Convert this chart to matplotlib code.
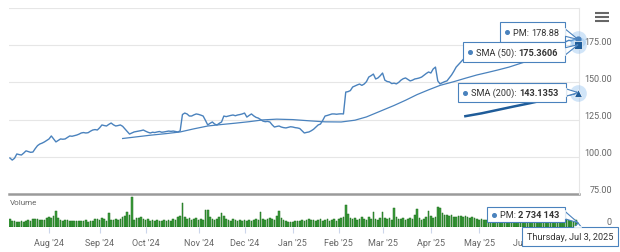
import numpy as np
import pandas as pd
import matplotlib
matplotlib.use('Agg')
import matplotlib.pyplot as plt
from matplotlib.patches import Rectangle, Polygon
import matplotlib.transforms as mtransforms

plt.rcParams['font.family'] = ['Roboto', 'DejaVu Sans']

# trading days (NYSE holidays removed)
holidays = ['2024-09-02', '2024-11-28', '2024-12-25', '2025-01-01', '2025-01-09',
            '2025-01-20', '2025-02-17', '2025-04-18', '2025-05-26', '2025-06-19']
dates = pd.bdate_range('2024-07-09', '2025-07-03', freq='C', holidays=holidays)

price = [
    99.2, 97.8, 99.0, 101.9, 101.5, 101.2, 102.5, 104.0, 103.5, 103.0,
    103.2, 105.5, 107.5, 108.6, 109.2, 110.0, 111.0, 112.0, 114.0, 112.0,
    110.0, 111.0, 112.0, 111.8, 112.0, 113.0, 114.0, 113.8, 114.2, 114.6,
    115.2, 116.0, 116.3, 116.0, 116.2, 117.2, 118.0, 118.3, 118.0, 119.5,
    121.4, 121.0, 120.7, 121.8, 122.7, 121.5, 120.7, 121.0, 121.4, 120.5,
    118.7, 117.0, 115.3, 116.0, 116.7, 117.0, 117.3, 117.6, 118.0, 117.2,
    116.5, 116.0, 116.5, 116.3, 116.7, 117.0, 116.5, 116.7, 117.0, 117.3,
    117.1, 117.3, 117.0, 116.7, 117.4, 128.4, 129.4, 128.8, 127.4, 127.4,
    128.2, 128.8, 128.5, 128.0, 127.4, 124.5, 121.4, 122.5, 123.4, 122.0,
    121.4, 122.5, 123.4, 127.4, 127.0, 127.4, 127.8, 128.1, 127.6, 128.1,
    128.4, 128.8, 129.4, 126.7, 127.8, 128.8, 127.5, 126.5, 126.0, 125.0,
    124.0, 123.6, 123.8, 123.4, 121.5, 120.0, 120.4, 120.7, 120.0, 119.6,
    119.4, 119.8, 120.2, 120.0, 119.6, 119.4, 119.0, 117.5, 116.0, 116.4,
    116.7, 117.5, 118.5, 120.0, 121.4, 122.0, 124.5, 127.4, 127.8, 128.3,
    128.8, 128.8, 128.6, 128.8, 128.9, 128.8, 143.5, 143.8, 144.5, 146.9,
    147.6, 148.3, 148.9, 148.0, 148.9, 150.5, 153.6, 154.5, 155.6, 152.3,
    153.0, 154.5, 156.3, 151.5, 150.6, 150.3, 149.2, 149.5, 149.0, 150.0,
    151.5, 152.5, 153.0, 152.0, 151.0, 151.5, 152.3, 152.6, 153.0, 153.6,
    154.8, 156.0, 157.0, 156.3, 159.0, 160.3, 151.0, 149.0, 149.8, 150.5,
    151.0, 153.0, 155.0, 157.5, 160.3, 162.0, 163.7, 165.5, 167.0, 168.5,
    167.8, 169.5, 171.0, 170.2, 172.0, 171.5, 170.0, 168.5, 167.3, 166.0,
    165.0, 164.5, 163.7, 165.2, 167.0, 168.8, 170.5, 171.2, 172.8, 173.5,
    172.6, 174.0, 175.2, 174.6, 176.0, 177.2, 176.5, 175.8, 177.0, 178.2,
    177.6, 176.8, 175.9, 176.5, 177.8, 178.5, 177.9, 176.7, 175.8, 176.4,
    177.3, 176.8, 177.6, 178.3, 177.9, 178.6, 179.2, 178.88,
]

# volume in millions
volume = [
    5.2, 4.1, 3.6, 3.5, 3.3, 3.8, 3.4, 4.2, 4.5, 4.0,
    5.0, 5.3, 5.1, 4.6, 4.4, 4.8, 5.6, 6.3, 5.9, 7.4,
    10.5, 5.8, 4.3, 3.9, 4.5, 4.7, 3.8, 4.1, 4.0, 3.9,
    4.2, 3.7, 4.0, 4.3, 3.5, 3.8, 4.1, 4.9, 5.3, 4.6,
    5.6, 5.1, 4.2, 9.0, 4.8, 4.5, 5.0, 4.3, 5.4, 6.2,
    7.2, 9.8, 8.0, 19.5, 4.6, 6.1, 5.7, 6.3, 5.2, 4.4,
    4.9, 4.1, 4.6, 3.8, 4.3, 4.0, 3.6, 4.8, 3.9, 4.4,
    4.1, 5.0, 4.6, 6.4, 7.0, 15.6, 6.8, 5.1, 5.6, 4.7,
    5.2, 6.0, 4.8, 5.5, 4.4, 10.8, 11.2, 6.4, 5.1, 4.6,
    5.0, 6.2, 9.4, 7.2, 5.4, 4.8, 4.2, 5.1, 4.4, 4.0,
    4.3, 3.8, 4.6, 4.2, 4.5, 3.9, 4.7, 4.9, 4.4, 9.8,
    5.0, 4.6, 5.3, 5.8, 4.9, 4.4, 7.2, 10.4, 5.6, 4.5,
    3.9, 3.5, 3.0, 3.4, 4.2, 3.8, 4.0, 4.6, 3.7, 4.3,
    5.1, 4.4, 4.8, 3.9, 4.6, 5.4, 4.2, 4.7, 5.2, 3.8,
    4.5, 5.0, 4.1, 4.9, 5.6, 6.3, 14.3, 8.2, 6.0, 5.1,
    5.8, 4.6, 5.3, 6.4, 5.0, 4.7, 6.8, 5.5, 9.8, 5.2,
    4.6, 5.9, 9.8, 6.1, 5.0, 5.7, 4.8, 12.4, 6.3, 5.4,
    4.9, 5.6, 4.4, 5.2, 6.0, 5.3, 7.8, 11.7, 5.9, 4.8,
    5.5, 6.4, 10.4, 7.2, 5.6, 6.6, 13.0, 12.1, 9.4, 7.6,
    8.0, 7.1, 7.5, 6.8, 6.4, 7.3, 6.9, 6.2, 7.0, 6.6,
    6.0, 6.5, 5.8, 5.1, 4.6, 5.0, 4.4, 4.8, 5.2, 4.7,
    4.3, 5.1, 5.6, 4.6, 4.9, 4.2, 4.5, 5.3, 4.8, 4.1,
    4.4, 5.0, 4.6, 5.4, 6.1, 4.8, 4.3, 4.0, 5.2, 4.7,
    4.5, 3.9, 4.4, 5.6, 4.8, 4.2, 7.5, 4.6, 4.1, 4.4,
    4.9, 4.5, 5.3, 4.7, 4.4, 5.0, 4.6, 2.734143,
]

# moving averages (trading-day number, value)
sma50_day = [49, 55, 61, 68, 74, 80, 86, 92, 98, 104, 110, 116, 123, 130, 137, 144,
             150, 155, 160, 167, 172, 177, 182, 187, 193, 198, 203, 208, 212, 217,
             222, 227, 232, 237, 242, 247]
sma50 = [112.3, 113.4, 114.5, 115.6, 116.7, 118.8, 120.7, 121.7, 122.6, 123.6, 124.8,
         125.3, 125.0, 124.2, 123.5, 123.4, 124.6, 126.8, 130.0, 134.5, 138.0, 141.8,
         145.0, 148.0, 150.5, 152.8, 155.0, 156.8, 158.3, 160.3, 162.8, 165.3, 167.8,
         170.4, 172.9, 175.3606]
sma200_day = [198, 205, 212, 219, 226, 233, 240, 247]
sma200 = [127.3, 129.2, 131.5, 133.8, 136.0, 138.4, 140.8, 143.1353]

price_grid = [100, 125, 150, 175, 200]
price_labels = [75, 100, 125, 150, 175]

W, H = 620, 253
x = np.arange(len(dates))
n = len(x) - 1

fig = plt.figure(figsize=(W / 100, H / 100), dpi=100)
fig.patch.set_facecolor('white')

line_c = '#4a82bd'
dark_c = '#1f5c99'
grey_t = '#666666'

# price panel
ax = fig.add_axes([9 / W, (H - 195) / H, 570 / W, 186 / H])
ax.set_xlim(-0.4, n + 0.4)
ax.set_ylim(75, 200)
for v in price_grid:
    ax.axhline(v, color='#e6e6e6', lw=0.8, zorder=0)
ax.axhline(75, color='#9a9a9a', lw=1.8, zorder=1, clip_on=False)
ax.plot(x, price, color=line_c, lw=1.0, zorder=3)
ax.plot(sma50_day, sma50, color=line_c, lw=0.9, zorder=3)
ax.plot(sma200_day, sma200, color=dark_c, lw=1.8, zorder=3)
for s in ['top', 'left', 'bottom']:
    ax.spines[s].set_visible(False)
ax.spines['right'].set_color('#e6e6e6')
ax.spines['right'].set_linewidth(0.8)
ax.set_xticks([])
ax.set_yticks([])
blend = mtransforms.blended_transform_factory(ax.transAxes, ax.transData)
for v in price_labels:
    ax.annotate('%.2f' % v, xy=(1, v), xycoords=blend, xytext=(33, 4),
                textcoords='offset pixels', ha='right', va='center',
                fontsize=6.5, color=grey_t, annotation_clip=False)

# hover markers at the last point
for v in [price[-1], sma50[-1], sma200[-1]]:
    ax.plot(n, v, 'o', ms=12, color='#7cb5ec', alpha=0.35, zorder=4, clip_on=False, mec='none')
ax.plot(n, price[-1], 'o', ms=3.5, color=line_c, zorder=5, clip_on=False)
ax.plot(n, sma50[-1], 's', ms=5.5, color=dark_c, mec='white', mew=0.5, zorder=6, clip_on=False)
ax.plot(n, sma200[-1], '^', ms=6, color=dark_c, mec='white', mew=0.5, zorder=6, clip_on=False)

# volume panel
vax = fig.add_axes([9 / W, (H - 228) / H, 570 / W, 31 / H])
vax.set_xlim(-0.4, n + 0.4)
vax.set_ylim(0, 20.2)
vax.bar(x, volume, width=0.72, color='#3d9e3d', edgecolor='#1b6b1b', linewidth=0.35)
for s in ['top', 'left', 'right', 'bottom']:
    vax.spines[s].set_visible(False)
vax.set_yticks([])
month_pos = [i for i in range(1, len(dates)) if dates[i].month != dates[i - 1].month]
vax.set_xticks(month_pos)
vax.set_xticklabels([dates[i].strftime("%b '%y") for i in month_pos])
vax.tick_params(axis='x', length=4, color='#ccd6eb', width=0.8, pad=4,
                labelsize=6.5, labelcolor=grey_t)
vblend = mtransforms.blended_transform_factory(vax.transAxes, vax.transData)
vax.annotate('0', xy=(1, 0), xycoords=vblend, xytext=(33, 5), textcoords='offset pixels',
             ha='right', va='center', fontsize=6.5, color=grey_t, annotation_clip=False)

# overlay in pixel coordinates for tooltips and icons
ov = fig.add_axes([0, 0, 1, 1])
ov.set_xlim(0, W)
ov.set_ylim(H, 0)
ov.axis('off')
ov.patch.set_alpha(0)

# the last month label is partly covered by the date tooltip
clip_rect = Rectangle((0, 0), 522, H, transform=ov.transData, visible=False)
ov.add_patch(clip_rect)
vax.get_xticklabels()[-1].set_clip_path(clip_rect)

ov.text(10, 203, 'Volume', fontsize=5.8, color=grey_t, va='center', ha='left')
for yy in [14, 18, 22]:
    ov.plot([595, 609], [yy, yy], color='#666666', lw=1.5, solid_capstyle='butt')

renderer = fig.canvas.get_renderer()


def to_px(axis, xv, yv):
    dx, dy = axis.transData.transform((xv, yv))
    return dx, H - dy


edge_c = '#4a82bd'


def tooltip(x0, y0, x1, y1, target, pieces, dot=True, point='right'):
    tx, ty = target
    ym = (y0 + y1) / 2
    if point == 'right':
        tri = [(x1 - 1, ym - 4), (tx, ty), (x1 - 1, ym + 4)]
    else:
        tri = [(tx - 4, y0 + 1), (tx, ty), (tx + 4, y0 + 1)]
    ov.add_patch(Polygon(tri, closed=True, fc='white', ec=edge_c, lw=0.8, zorder=3))
    ov.add_patch(Rectangle((x0, y0), x1 - x0, y1 - y0, fc='white', ec=edge_c, lw=0.8, zorder=4))
    # hide the base of the pointer inside the box edge
    if point == 'right':
        ov.plot([x1, x1], [ym - 3.2, ym + 3.2], color='white', lw=1.2, zorder=5)
    else:
        ov.plot([tx - 3.2, tx + 3.2], [y0, y0], color='white', lw=1.2, zorder=5)
    xc = x0 + 5
    if dot:
        ov.plot(xc + 1.5, ym, 'o', ms=2.6, color=line_c, zorder=6)
        xc += 8
    for txt, wt in pieces:
        t = ov.text(xc, ym, txt, fontsize=6.6, color='#333333', fontweight=wt,
                    va='center', ha='left', zorder=6)
        xc += t.get_window_extent(renderer).width


pm_pt = to_px(ax, n, price[-1])
s50_pt = to_px(ax, n, sma50[-1])
s200_pt = to_px(ax, n, sma200[-1])
vol_pt = to_px(vax, n, volume[-1])

tooltip(500, 23, 565, 43, pm_pt, [('PM: ', 'normal'), ('%.2f' % price[-1], 'normal')])
tooltip(463, 43, 565, 63, s50_pt, [('SMA (50): ', 'normal'), ('%.4f' % sma50[-1], 'bold')])
tooltip(458, 84, 566, 103, s200_pt, [('SMA (200): ', 'normal'), ('%.4f' % sma200[-1], 'bold')])
vol_txt = '{:,}'.format(int(round(volume[-1] * 1e6))).replace(',', ' ')
tooltip(487, 208, 565, 223, vol_pt, [('PM: ', 'normal'), (vol_txt, 'bold')])
date_txt = dates[-1].strftime('%A, %b ') + str(dates[-1].day) + dates[-1].strftime(', %Y')
tooltip(522, 228, 618, 247, (vol_pt[0], 224), [(date_txt, 'normal')], dot=False, point='up')

fig.savefig('out.png', dpi=100, facecolor='white')
